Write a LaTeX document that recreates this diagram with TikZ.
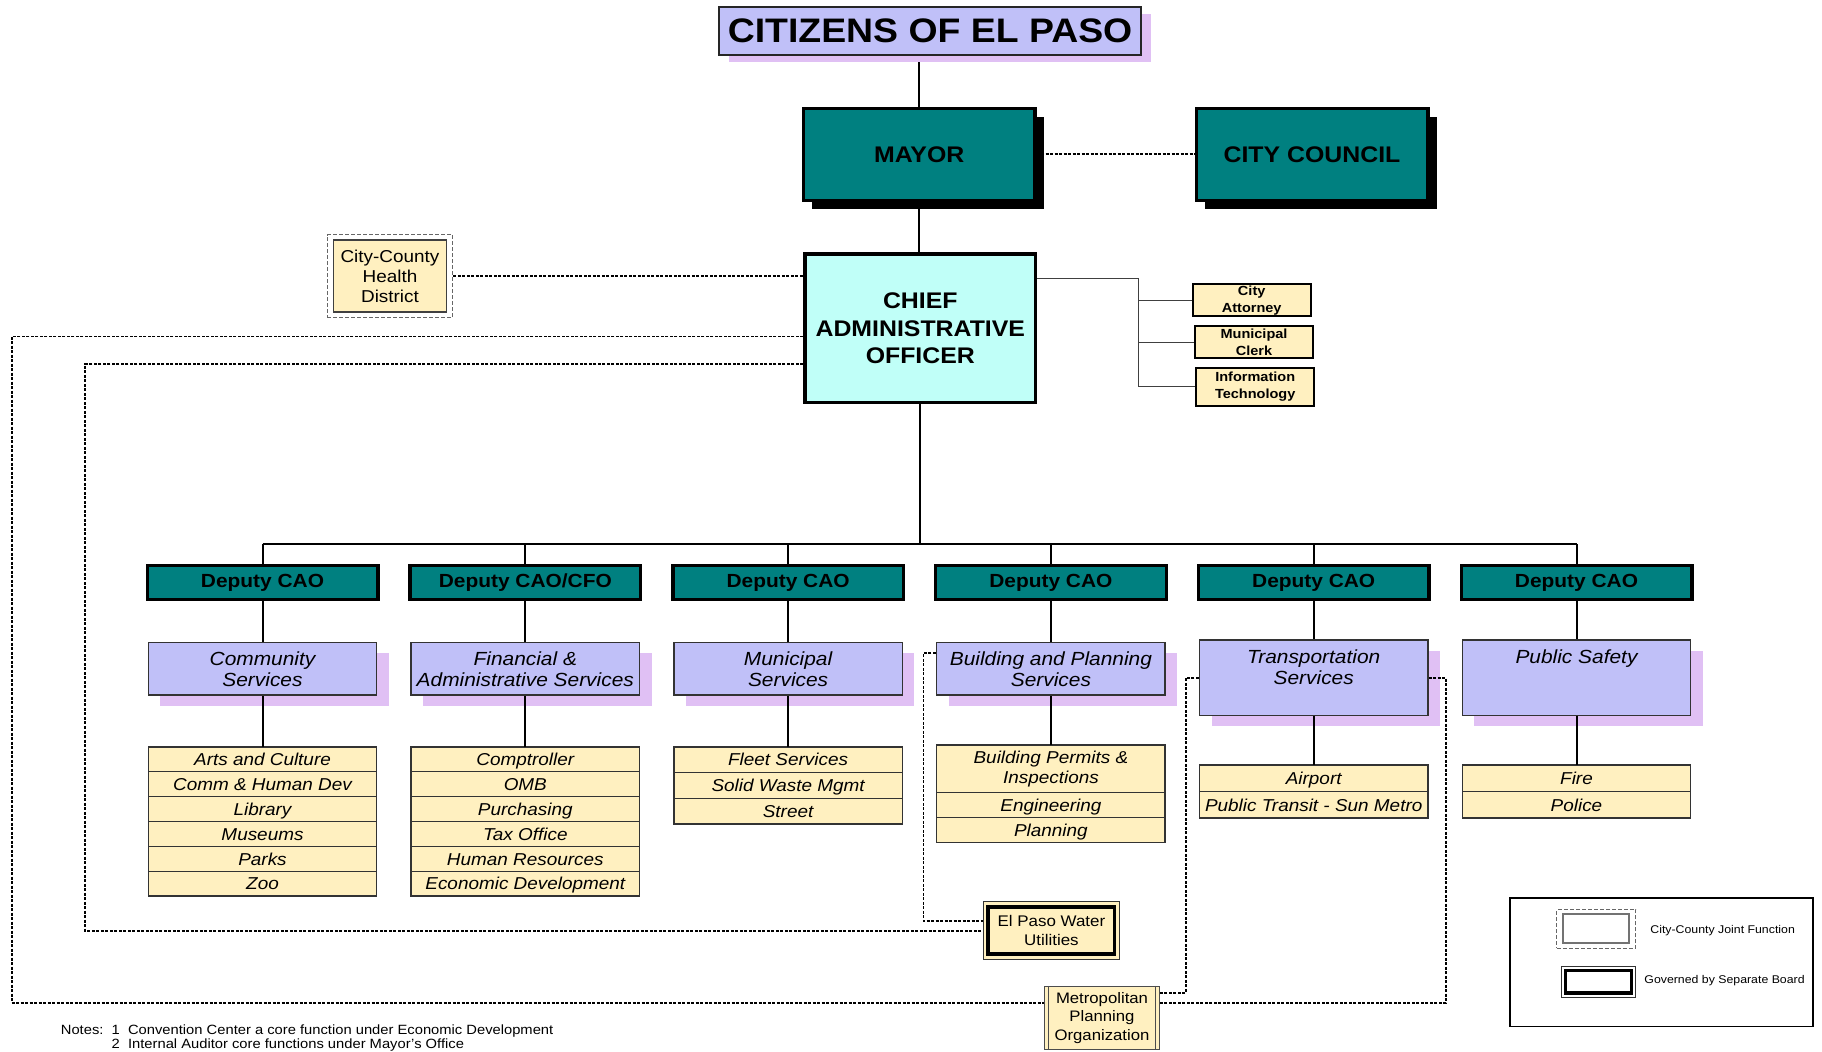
\documentclass[tikz,border=0pt]{standalone}
\usepackage{fontspec}
\setmainfont[FakeStretch=1.1]{Liberation Sans}
\usetikzlibrary{positioning, shadows, backgrounds, fit}

\definecolor{orgteal}{RGB}{0,128,128}
\definecolor{periwinkle}{RGB}{192,192,248}
\definecolor{lilac}{RGB}{224,192,244}
\definecolor{cream}{RGB}{255,240,192}
\definecolor{paleaqua}{RGB}{192,255,248}

\begin{document}
\begin{tikzpicture}[x=0.5pt, y=-0.5pt, node distance=131.4pt,
    citizen/.style={draw=black!85, line width=1pt, fill=periwinkle, inner sep=0pt,
      minimum width=211pt, minimum height=24pt, font=\fontsize{17}{20}\selectfont\bfseries,
      drop shadow={shadow xshift=5pt, shadow yshift=-3.5pt, fill=lilac, opacity=1}},
    elected/.style={draw=black, line width=1.7pt, fill=orgteal, inner sep=0pt,
      minimum width=115.8pt, minimum height=46pt, font=\fontsize{11.3}{13.75}\selectfont\bfseries,
      drop shadow={shadow xshift=4.5pt, shadow yshift=-4.3pt, fill=black, opacity=1}},
    chief/.style={draw=black, line width=1.6pt, fill=paleaqua, inner sep=0pt, align=center,
      minimum width=115.3pt, minimum height=74.3pt, font=\fontsize{11.3}{13.75}\selectfont\bfseries},
    staff/.style={draw=black, line width=1pt, fill=cream, inner sep=0pt, align=center,
      minimum width=59pt, minimum height=16pt, font=\fontsize{6.6}{8.65}\selectfont\bfseries},
    deputy/.style={draw=black, line width=1.7pt, fill=orgteal, inner sep=0pt,
      minimum width=115.3pt, minimum height=16.8pt, font=\fontsize{9.5}{11}\selectfont\bfseries},
    dept/.style={draw=black!80, line width=0.75pt, fill=periwinkle, inner sep=0pt, align=center,
      minimum width=114.2pt, minimum height=26.15pt, font=\fontsize{9.5}{10.5}\selectfont\itshape,
      drop shadow={shadow xshift=6pt, shadow yshift=-5.3pt, fill=lilac, opacity=1}},
    tall/.style={minimum height=37.85pt},
    officebox/.style={draw=black!80, line width=0.75pt, fill=cream, inner sep=0pt, outer sep=0pt,
      align=center, minimum width=114.2pt, minimum height=#1, font=\fontsize{8.6}{10}\selectfont\itshape},
    officebox/.default=12.45pt,
    office/.style={officebox=#1, text height=6.2pt, text depth=0pt},
    office/.default=12.45pt,
    jointbox/.style={draw=black!75, line width=0.75pt, fill=cream, align=center, inner sep=0pt,
      minimum width=56.5pt, minimum height=36pt, font=\fontsize{8.6}{10}\selectfont},
    jointframe/.style={draw=black!60, line width=0.5pt, dash pattern=on 2pt off 1pt,
      inner xsep=2.75pt, inner ysep=2.25pt},
    board/.style={draw=black!80, line width=0.5pt, fill=cream, align=center, inner sep=0pt,
      minimum width=68.4pt, minimum height=28.55pt, font=\fontsize{7.7}{9.15}\selectfont},
    boardline/.style={draw=black, line width=1.6pt},
    process/.style={draw=black!70, line width=0.5pt, fill=cream, align=center, inner sep=0pt,
      minimum width=57.5pt, minimum height=31.5pt, font=\fontsize{7.6}{9.15}\selectfont},
    processline/.style={draw=black!70, line width=0.5pt},
    link/.style={draw=black, line width=1pt},
    stafflink/.style={draw=black!75, line width=0.6pt},
    joint/.style={draw=black, line width=0.9pt, dash pattern=on 1.5pt off 0.75pt},
    keytext/.style={font=\fontsize{5.6}{7}\selectfont, anchor=west, inner sep=0pt}]

  \useasboundingbox (0,0) rectangle (1822,1052);

  % top of the chart
  \node[citizen] (citizens) at (930,31) {CITIZENS OF EL PASO};
  \node[elected] (mayor) at (919.2,154.3) {MAYOR};
  \node[elected] (council) at (1312,154.3) {CITY COUNCIL};
  \node[chief] (cao) at (920.3,328.3) {CHIEF\\ADMINISTRATIVE\\OFFICER};
  \node[jointbox] (health) at (390,276) {City-County\\Health\\District};
  \node[jointframe, fit=(health)] (healthframe) {};

  % staff offices
  \node[staff] (attorney) at (1251.7,300.3) {City\\Attorney};
  \node[staff] (clerk) at (1254,342.2) {Municipal\\Clerk};
  \node[staff, minimum height=19pt] (infotech) at (1255.2,386.7) {Information\\Technology};

  % deputies
  \node[deputy] (dep_1) at (262.5,582.5) {Deputy CAO};
  \node[deputy, on grid, right=of dep_1] (dep_2) {Deputy CAO/CFO};
  \node[deputy, on grid, right=of dep_2] (dep_3) {Deputy CAO};
  \node[deputy, on grid, right=of dep_3] (dep_4) {Deputy CAO};
  \node[deputy, on grid, right=of dep_4] (dep_5) {Deputy CAO};
  \node[deputy, on grid, right=of dep_5] (dep_6) {Deputy CAO};

  % departments
  \node[dept, on grid, below=43.2pt of dep_1] (svc_1) {Community\\Services};
  \node[dept, on grid, below=43.2pt of dep_2] (svc_2) {Financial \&\\Administrative Services};
  \node[dept, on grid, below=43.2pt of dep_3] (svc_3) {Municipal\\Services};
  \node[dept, on grid, below=43.2pt of dep_4] (svc_4) {Building and Planning\\Services};
  \node[dept, tall, on grid, below=47.7pt of dep_5] (svc_5) {Transportation\\Services\\~};
  \node[dept, tall, on grid, below=47.7pt of dep_6] (svc_6) {Public Safety\\~\\~};

  % offices under each department
  \node[office, below=25.5pt of svc_1] (svc_1_1) {Arts and Culture};
  \foreach \t [count=\i from 2, remember=\i as \j (initially 1)] in
      {Comm \& Human Dev, Library, Museums, Parks, Zoo}
    \node[office, below=0pt of svc_1_\j] (svc_1_\i) {\t};
  \node[office, below=25.5pt of svc_2] (svc_2_1) {Comptroller};
  \foreach \t [count=\i from 2, remember=\i as \j (initially 1)] in
      {OMB, Purchasing, Tax Office, Human Resources, Economic Development}
    \node[office, below=0pt of svc_2_\j] (svc_2_\i) {\t};
  \node[office=12.9pt, below=25.5pt of svc_3] (svc_3_1) {Fleet Services};
  \node[office=12.9pt, below=0pt of svc_3_1] (svc_3_2) {Solid Waste Mgmt};
  \node[office=12.9pt, below=0pt of svc_3_2] (svc_3_3) {Street};
  \node[officebox=23.85pt, below=24.5pt of svc_4] (svc_4_1) {Building Permits \&\\Inspections};
  \node[office=12.5pt, below=0pt of svc_4_1] (svc_4_2) {Engineering};
  \node[office=12.5pt, below=0pt of svc_4_2] (svc_4_3) {Planning};
  \node[office=13.25pt, below=24.3pt of svc_5] (svc_5_1) {Airport};
  \node[office=13.25pt, below=0pt of svc_5_1] (svc_5_2) {Public Transit - Sun Metro};
  \node[office=13.25pt, below=24.3pt of svc_6] (svc_6_1) {Fire};
  \node[office=13.25pt, below=0pt of svc_6_1] (svc_6_2) {Police};

  % separate boards
  \node[board] (water) at (1051.4,930.5) {El Paso Water\\Utilities};
  \draw[boardline] ([shift={(5.5,5.5)}]water.north west) rectangle ([shift={(-5.5,-5.5)}]water.south east);
  \node[process] (metro) at (1102,1018) {Metropolitan\\Planning\\Organization};
  \draw[processline] ([xshift=2.2pt]metro.north west) -- ([xshift=2.2pt]metro.south west)
                     ([xshift=-2.2pt]metro.north east) -- ([xshift=-2.2pt]metro.south east);

  % legend
  \node[draw, line width=0.8pt, minimum width=151.5pt, minimum height=64.3pt] (legend) at (1661.2,962.4) {};
  \node[draw=black!55, line width=1pt, minimum width=33pt, minimum height=14.5pt] (jointkey) at (1596.4,929) {};
  \node[jointframe, inner ysep=1.9pt, fit=(jointkey)] (jointkeyframe) {};
  \node[board, fill=white, minimum width=37.4pt, minimum height=15.6pt] (boardkey) at (1598.4,981.9) {};
  \draw[boardline] ([shift={(5,5)}]boardkey.north west) rectangle ([shift={(-5,-5)}]boardkey.south east);
  \node[keytext] (jointtext) at (1650,930.7) {City-County Joint Function};
  \node[keytext] (boardtext) at (1644,981) {Governed by Separate Board};

  % notes
  \node[anchor=west, align=left, inner sep=0pt, font=\fontsize{6.7}{7}\selectfont] (notes) at (60.5,1038)
    {Notes:\ \ 1\ \ Convention Center a core function under Economic Development\\
     \phantom{Notes:\ \ }2\ \ Internal Auditor core functions under Mayor's Office};

  % connectors
  \begin{scope}[on background layer]
    \draw[link] (mayor.north) -- (mayor.north |- citizens.south);
    \draw[joint] (mayor.east) -- (council.west);
  \end{scope}
  \draw[link] (mayor.south) -- (mayor.south |- cao.north);
  \draw[joint] (healthframe.east) -- (healthframe.east -| cao.west);
  \coordinate (staffbus) at (1138.4,278.3);
  \draw[stafflink] (cao.east |- staffbus) -- (staffbus) -- (staffbus |- infotech.west) -- (infotech.west);
  \draw[stafflink] (staffbus |- attorney.west) -- (attorney.west);
  \draw[stafflink] (staffbus |- clerk.west) -- (clerk.west);
  \coordinate (bus) at (920.3,544);
  \draw[link] (cao.south) -- (cao.south |- bus);
  \draw[link] (dep_1.north |- bus) -- (dep_6.north |- bus);
  \foreach \i in {1,...,6}
    \draw[link] (dep_\i.north) -- (dep_\i.north |- bus)
                (dep_\i.south) -- (svc_\i.north)
                (svc_\i.south) -- (svc_\i_1.north);

  % joint function lines
  \coordinate (outer_top) at (11.6,336.5);
  \coordinate (outer_bottom) at (11.6,1002.7);
  \draw[joint] (cao.west |- outer_top) -- (outer_top) -- (outer_bottom) -- (outer_bottom -| metro.west);
  \coordinate (inner_top) at (85,364.4);
  \coordinate (inner_bottom) at (85,930.7);
  \draw[joint] (cao.west |- inner_top) -- (inner_top) -- (inner_bottom) -- (inner_bottom -| water.west);
  \coordinate (bp_top) at (923.5,653.3);
  \coordinate (bp_bottom) at (923.5,921.2);
  \draw[joint] (svc_4.west |- bp_top) -- (bp_top) -- (bp_bottom) -- (bp_bottom -| water.west);
  \coordinate (tr_left) at (1185.7,992.7);
  \draw[joint] (svc_5.west) -| (tr_left) -- (tr_left -| metro.east);
  \coordinate (tr_right) at (1446,1002.7);
  \draw[joint] (svc_5.east) -| (tr_right) -- (tr_right -| metro.east);
\end{tikzpicture}
\end{document}
